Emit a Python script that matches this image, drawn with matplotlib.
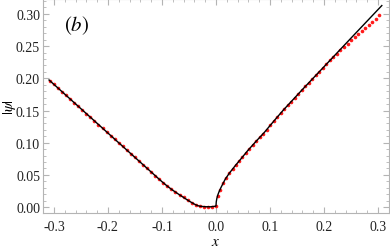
import matplotlib
matplotlib.use("Agg")
import matplotlib.pyplot as plt
from matplotlib.ticker import MultipleLocator, FormatStrFormatter

plt.rcParams['font.family'] = ['Liberation Serif', 'DejaVu Serif']
plt.rcParams['mathtext.fontset'] = 'stix'

# black curve
line_x = [-0.309, -0.11, -0.10, -0.09, -0.08, -0.07, -0.06, -0.05, -0.04, -0.035,
          -0.03, -0.02, -0.01, 0.0, 0.0005, 0.0015, 0.003, 0.0055, 0.009, 0.0123,
          0.0172, 0.025, 0.0357, 0.047, 0.0586, 0.074, 0.0895, 0.107, 0.1246,
          0.16, 0.20, 0.25, 0.307]
line_y = [0.1974, 0.0470, 0.0395, 0.0325, 0.0262, 0.0205, 0.0150, 0.0095, 0.0047, 0.0027,
          0.0014, 0.0006, 0.0005, 0.0015, 0.008, 0.013, 0.018, 0.0235, 0.030, 0.0355,
          0.0435, 0.053, 0.0644, 0.0757, 0.0876, 0.102, 0.116, 0.1335, 0.1506,
          0.1826, 0.218, 0.2625, 0.313]

# red dots, left branch
dots_left_x = [-0.3075, -0.300, -0.2925, -0.285, -0.2775, -0.270, -0.2625, -0.255,
               -0.2475, -0.240, -0.2325, -0.225, -0.2175, -0.210, -0.2025, -0.195,
               -0.1875, -0.180, -0.1725, -0.165, -0.1575, -0.150, -0.1425, -0.135,
               -0.1275, -0.120, -0.1125, -0.105, -0.0975, -0.090, -0.0825, -0.075,
               -0.0675, -0.060, -0.0525, -0.045, -0.0375, -0.030, -0.0225, -0.015,
               -0.0075, 0.0]
dots_left_y = [0.1963, 0.1906, 0.1849, 0.1793, 0.1736, 0.1679, 0.1623, 0.1566,
               0.1509, 0.1452, 0.1396, 0.1339, 0.1282, 0.1226, 0.1169, 0.1112,
               0.1055, 0.0999, 0.0942, 0.0885, 0.0829, 0.0772, 0.0715, 0.0659,
               0.0602, 0.0545, 0.0488, 0.0433, 0.0378, 0.0325, 0.0276, 0.0232,
               0.0191, 0.0150, 0.0108, 0.0068, 0.0035, 0.0014, 0.0007, 0.0005,
               0.0005, 0.0010]

# red dots, right branch
dots_right_x = [0.003, 0.0075, 0.013, 0.019, 0.025, 0.031, 0.037, 0.043, 0.049,
                0.055, 0.0615, 0.068, 0.0745, 0.081, 0.0875, 0.094, 0.1005, 0.107,
                0.1135, 0.12, 0.1265, 0.133, 0.1395, 0.146, 0.1525, 0.159, 0.1655,
                0.172, 0.1785, 0.185, 0.1915, 0.198, 0.2045, 0.211, 0.2175, 0.224,
                0.2305, 0.237, 0.2435, 0.25, 0.2565, 0.263, 0.2695, 0.276, 0.2825,
                0.289, 0.2955, 0.3024]
dots_right_y = [0.018, 0.027, 0.037, 0.0455, 0.053, 0.0595, 0.0657, 0.0717, 0.0777,
                0.0839, 0.0903, 0.0965, 0.1025, 0.1083, 0.1142, 0.1205, 0.127, 0.1335,
                0.1398, 0.1461, 0.1523, 0.1582, 0.164, 0.1699, 0.1758, 0.1817, 0.1875,
                0.1932, 0.1990, 0.2047, 0.2105, 0.2162, 0.222, 0.2278, 0.2331, 0.2384,
                0.2437, 0.2489, 0.2540, 0.2590, 0.2637, 0.2685, 0.2731, 0.2778, 0.2826,
                0.2874, 0.2924, 0.2979]

fig = plt.figure(figsize=(3.9, 2.51), dpi=100)
ax = fig.add_axes([0.110, 0.147, 0.887, 0.853])

ax.plot(dots_left_x + dots_right_x, dots_left_y + dots_right_y, 'o', color='#ff1a1a',
        markersize=2.6, markeredgewidth=0, zorder=2)
ax.plot(line_x, line_y, color='black', linewidth=1.0, zorder=3)

ax.set_xlim(-0.3204, 0.32)
ax.set_ylim(-0.0093, 0.3232)
ax.xaxis.set_major_locator(MultipleLocator(0.1))
ax.xaxis.set_minor_locator(MultipleLocator(0.02))
ax.yaxis.set_major_locator(MultipleLocator(0.05))
ax.yaxis.set_minor_locator(MultipleLocator(0.01))
ax.xaxis.set_major_formatter(FormatStrFormatter('%.1f'))
ax.yaxis.set_major_formatter(FormatStrFormatter('%.2f'))

gray = '#b4b4b4'
for s in ax.spines.values():
    s.set_color(gray)
    s.set_linewidth(0.8)
ax.tick_params(which='both', direction='in', top=True, right=True, color=gray,
               labelsize=10, labelcolor='#222222')
ax.tick_params(which='major', length=4, width=0.8)
ax.tick_params(axis='x', which='major', pad=5)
ax.tick_params(axis='y', which='major', pad=2)
ax.tick_params(which='minor', length=2, width=0.6)

ax.set_xlabel(r'$x$', fontsize=11)
ax.set_ylabel(r'$|\psi|$', fontsize=11)
ax.xaxis.set_label_coords(0.5, -0.1)
ax.yaxis.set_label_coords(-0.072, 0.5)
ax.text(0.062, 0.855, r'$(b)$', transform=ax.transAxes, fontsize=15)

fig.savefig('out.png', dpi=100)
